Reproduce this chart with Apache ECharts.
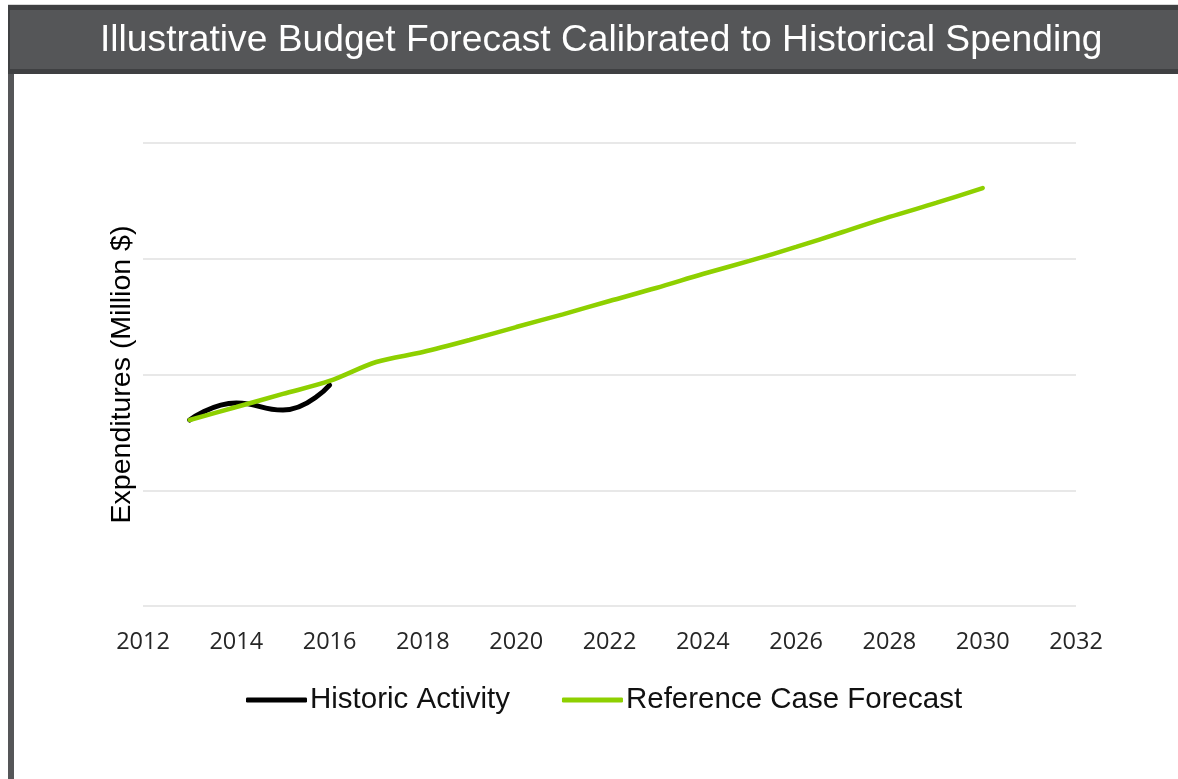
<!DOCTYPE html>
<html>
<head>
<meta charset="utf-8">
<script src="https://cdn.jsdelivr.net/npm/echarts@6/dist/echarts.min.js"></script>
<style>html,body{margin:0;padding:0;background:#fff;}#c{width:1178px;height:779px;}</style>
</head>
<body>
<div id="c"></div>
<script>
var titleText = 'Illustrative Budget Forecast Calibrated to Historical Spending';
var yAxisName = 'Expenditures (Million $)';
var seriesNames = ['Historic Activity', 'Reference Case Forecast'];
var historicYears = [2013, 2014, 2015, 2016];
var historicValues = [1.607, 1.754, 1.693, 1.909];
var forecastYears = [2013, 2014, 2015, 2016, 2017, 2018, 2019, 2020, 2021, 2022, 2023, 2024, 2025, 2026, 2027, 2028, 2029, 2030];
var forecastValues = [1.607, 1.719, 1.832, 1.944, 2.108, 2.194, 2.298, 2.410, 2.520, 2.635, 2.747, 2.868, 2.981, 3.102, 3.231, 3.361, 3.482, 3.611];

function pairs(xs, ys) { return xs.map(function (x, i) { return [x, ys[i]]; }); }

var chart = echarts.init(document.getElementById('c'), null, {renderer: 'canvas'});
chart.setOption({
  animation: false,
  backgroundColor: '#ffffff',
  graphic: [
    {type: 'rect', z: -1, shape: {x: 8, y: 4, width: 1170, height: 70}, style: {fill: '#d8d8d8'}},
    {type: 'rect', z: 0, shape: {x: 8, y: 5, width: 1170, height: 69}, style: {fill: '#3f4042'}},
    {type: 'rect', z: 0, shape: {x: 10, y: 10, width: 1168, height: 59}, style: {fill: '#555658'}},
    {type: 'rect', z: 0, shape: {x: 8, y: 74, width: 6, height: 705}, style: {fill: '#555658'}}
  ],
  title: {
    text: titleText,
    left: 95,
    top: 17,
    textStyle: {color: '#ffffff', fontFamily: 'Liberation Sans', fontSize: 37.2, fontWeight: 'normal'}
  },
  grid: {left: 143, right: 102, top: 143, bottom: 173, containLabel: false},
  legend: {
    bottom: 59,
    left: 241,
    itemWidth: 61,
    itemHeight: 5,
    itemGap: 52,
    icon: 'roundRect',
    textStyle: {color: '#111', fontFamily: 'Liberation Sans', fontSize: 29.5, padding: [0, 0, 0, -2]},
    data: seriesNames
  },
  xAxis: {
    type: 'value',
    min: 2012, max: 2032, interval: 2,
    axisLine: {show: false},
    axisTick: {show: false},
    splitLine: {show: false},
    axisLabel: {color: '#262626', fontFamily: 'Open Sans', fontSize: 23.5, margin: 24, formatter: function (v) { return String(v); }}
  },
  yAxis: {
    type: 'value',
    min: 0, max: 4, interval: 1,
    name: yAxisName,
    nameLocation: 'middle',
    nameGap: 6,
    nameTextStyle: {color: '#000', fontFamily: 'Liberation Sans', fontSize: 28.5},
    axisLine: {show: false},
    axisTick: {show: false},
    axisLabel: {show: false},
    splitLine: {show: true, lineStyle: {color: '#e0e0e0', width: 1.5}}
  },
  series: [
    {
      name: seriesNames[0], type: 'line', smooth: 0.5, showSymbol: false, symbol: 'none',
      lineStyle: {color: '#000000', width: 5, cap: 'round'}, itemStyle: {color: '#000000'},
      data: pairs(historicYears, historicValues), z: 2
    },
    {
      name: seriesNames[1], type: 'line', smooth: 0.3, showSymbol: false, symbol: 'none',
      lineStyle: {color: '#8ed000', width: 4.5, cap: 'round'}, itemStyle: {color: '#8ed000'},
      data: pairs(forecastYears, forecastValues), z: 3
    }
  ]
});
</script>
</body>
</html>
